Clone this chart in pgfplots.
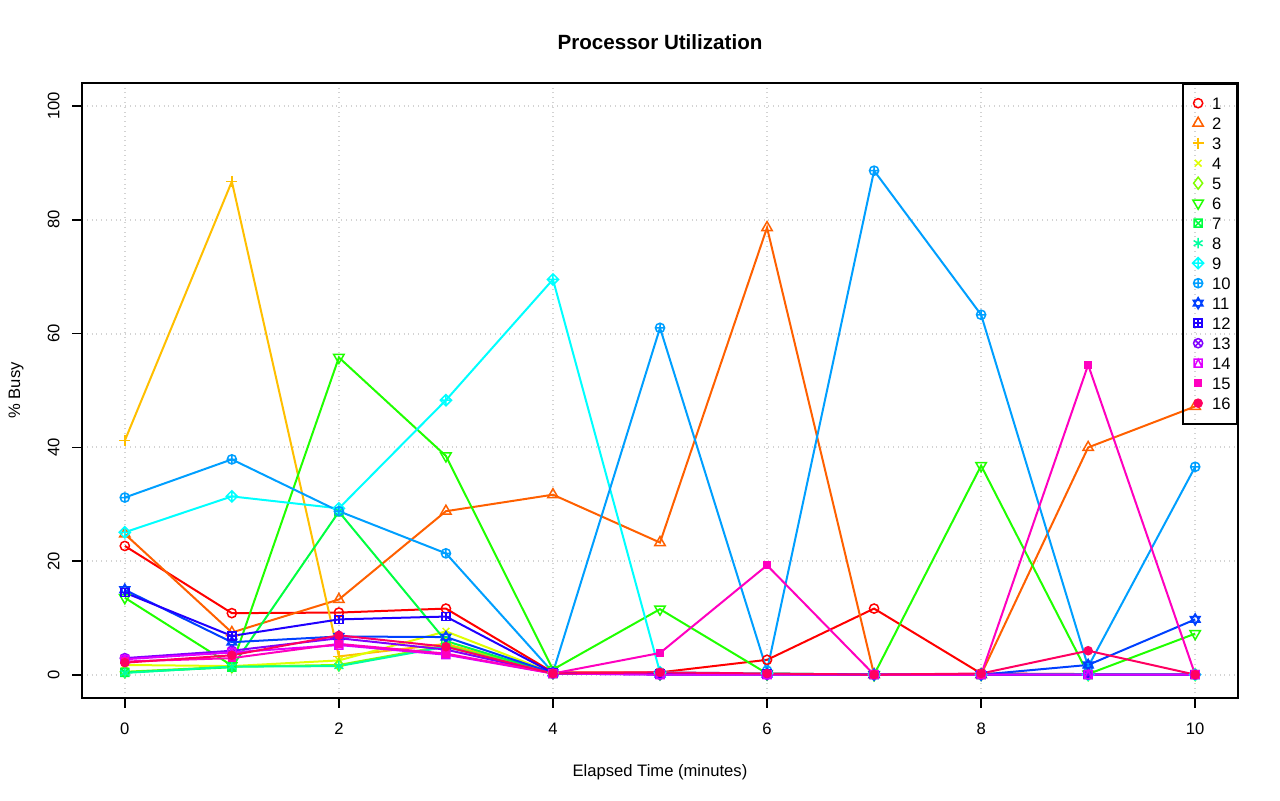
\documentclass[border=0pt]{standalone}
\usepackage{fontspec}
\setmainfont{Liberation Sans}
\usepackage{pgfplots}
\pgfplotsset{compat=1.18}
\definecolor{c1}{HTML}{FF0000}
\definecolor{c2}{HTML}{FF6000}
\definecolor{c3}{HTML}{FFBF00}
\definecolor{c4}{HTML}{DFFF00}
\definecolor{c5}{HTML}{80FF00}
\definecolor{c6}{HTML}{20FF00}
\definecolor{c7}{HTML}{00FF40}
\definecolor{c8}{HTML}{00FF9F}
\definecolor{c9}{HTML}{00FFFF}
\definecolor{c10}{HTML}{009FFF}
\definecolor{c11}{HTML}{0040FF}
\definecolor{c12}{HTML}{2000FF}
\definecolor{c13}{HTML}{8000FF}
\definecolor{c14}{HTML}{DF00FF}
\definecolor{c15}{HTML}{FF00BF}
\definecolor{c16}{HTML}{FF0060}
\definecolor{gridgray}{HTML}{D3D3D3}
\newcommand\fs{\fontsize{8.3}{10}\selectfont}
\pgfdeclareplotmark{boxtimes}{%
  \pgfpathrectangle{\pgfqpoint{-\pgfplotmarksize}{-\pgfplotmarksize}}{\pgfqpoint{2\pgfplotmarksize}{2\pgfplotmarksize}}%
  \pgfpathmoveto{\pgfqpoint{-\pgfplotmarksize}{-\pgfplotmarksize}}\pgfpathlineto{\pgfqpoint{\pgfplotmarksize}{\pgfplotmarksize}}%
  \pgfpathmoveto{\pgfqpoint{-\pgfplotmarksize}{\pgfplotmarksize}}\pgfpathlineto{\pgfqpoint{\pgfplotmarksize}{-\pgfplotmarksize}}%
  \pgfusepathqstroke}
\pgfdeclareplotmark{boxplus}{%
  \pgfpathrectangle{\pgfqpoint{-\pgfplotmarksize}{-\pgfplotmarksize}}{\pgfqpoint{2\pgfplotmarksize}{2\pgfplotmarksize}}%
  \pgfpathmoveto{\pgfqpoint{0pt}{-\pgfplotmarksize}}\pgfpathlineto{\pgfqpoint{0pt}{\pgfplotmarksize}}%
  \pgfpathmoveto{\pgfqpoint{-\pgfplotmarksize}{0pt}}\pgfpathlineto{\pgfqpoint{\pgfplotmarksize}{0pt}}%
  \pgfusepathqstroke}
\pgfdeclareplotmark{boxtri}{%
  \pgfpathrectangle{\pgfqpoint{-\pgfplotmarksize}{-\pgfplotmarksize}}{\pgfqpoint{2\pgfplotmarksize}{2\pgfplotmarksize}}%
  \pgfpathmoveto{\pgfqpoint{-\pgfplotmarksize}{-\pgfplotmarksize}}\pgfpathlineto{\pgfqpoint{0pt}{\pgfplotmarksize}}%
  \pgfpathlineto{\pgfqpoint{\pgfplotmarksize}{-\pgfplotmarksize}}%
  \pgfusepathqstroke}
\pgfdeclareplotmark{diamondplus}{%
  \pgfpathmoveto{\pgfqpoint{0pt}{\pgfplotmarksize}}%
  \pgfpathlineto{\pgfqpoint{\pgfplotmarksize}{0pt}}%
  \pgfpathlineto{\pgfqpoint{0pt}{-\pgfplotmarksize}}%
  \pgfpathlineto{\pgfqpoint{-\pgfplotmarksize}{0pt}}%
  \pgfpathclose
  \pgfpathmoveto{\pgfqpoint{0pt}{\pgfplotmarksize}}\pgfpathlineto{\pgfqpoint{0pt}{-\pgfplotmarksize}}%
  \pgfpathmoveto{\pgfqpoint{\pgfplotmarksize}{0pt}}\pgfpathlineto{\pgfqpoint{-\pgfplotmarksize}{0pt}}%
  \pgfusepathqstroke}
\pgfdeclareplotmark{davidstar}{%
  \pgfpathmoveto{\pgfpointpolar{90}{\pgfplotmarksize}}%
  \pgfpathlineto{\pgfpointpolar{210}{\pgfplotmarksize}}%
  \pgfpathlineto{\pgfpointpolar{330}{\pgfplotmarksize}}%
  \pgfpathclose
  \pgfpathmoveto{\pgfpointpolar{270}{\pgfplotmarksize}}%
  \pgfpathlineto{\pgfpointpolar{30}{\pgfplotmarksize}}%
  \pgfpathlineto{\pgfpointpolar{150}{\pgfplotmarksize}}%
  \pgfpathclose
  \pgfusepathqstroke}
\begin{document}
\begin{tikzpicture}
\useasboundingbox (-41pt,-51.5pt) rectangle (599pt,349pt);
\begin{axis}[
  at={(0pt,0pt)}, anchor=south west,
  scale only axis, width=578pt, height=307.5pt,
  xmin=-0.4, xmax=10.4, ymin=-4, ymax=104,
  xtick={0,2,4,6,8,10}, ytick={0,20,40,60,80,100},
  tick pos=left, tick align=outside, major tick length=5pt,
  axis line style={line width=0.85pt},
  every tick/.style={black, line width=0.85pt},
  grid=major, grid style={dotted, line width=1pt, gridgray},
  /pgf/number format/assume math mode=true,
  tick label style={font=\fs},
  xticklabel style={inner sep=0pt, anchor=north, yshift=-7.5pt},
  yticklabel style={rotate=90, anchor=south, inner sep=0pt},
  yticklabel shift=6pt,
  every axis x label/.style={at={(axis description cs:0.5,0)}, anchor=base, yshift=-39.5pt, font=\fs},
  every axis y label/.style={at={(axis description cs:0,0.5)}, xshift=-33pt, rotate=90, anchor=center, font=\fs},
  xlabel={Elapsed Time (minutes)},
  ylabel={\% Busy},
  title={Processor Utilization},
  title style={at={(axis description cs:0.5,1)}, anchor=center, yshift=14.5pt, font=\bfseries\fontsize{10.3}{12}\selectfont},
  legend style={at={(1,1)}, anchor=north east, draw=black, fill=none, line width=0.8pt,
    font=\fs, inner xsep=3.3pt, inner ysep=5pt, column sep=0pt, row sep=0pt,
    nodes={inner sep=0pt, text height=8pt, text depth=2pt},
    /tikz/every odd column/.append style={column sep=2.8pt}},
  legend cell align=left,
  legend image code/.code={\path[draw=none,fill=none] (0pt,0.3pt) -- (8.4pt,0.3pt);\draw[mark repeat=2,mark phase=2,#1] plot coordinates {(0pt,0.3pt)(4.2pt,0.3pt)(8.4pt,0.3pt)};},
  every axis plot/.append style={line width=1pt, mark size=2.3pt},
  mk/.style={mark options={solid, line width=0.75pt, #1}},
  mk/.default={},
]
\addplot[c1, mark=o, mk, forget plot] coordinates {(0,22.7)(1,10.9)(2,11.0)(3,11.7)(4,0.5)(5,0.5)(6,2.7)(7,11.7)(8,0.3)(9,0.2)(10,0.1)};
\addplot[c2, mark=triangle, mark size=3pt, mk, forget plot] coordinates {(0,24.8)(1,7.5)(2,13.3)(3,28.8)(4,31.7)(5,23.3)(6,78.6)(7,0.1)(8,0.1)(9,40.0)(10,47.2)};
\addplot[c3, mark=+, mark size=2.8pt, mk, forget plot] coordinates {(0,41.2)(1,86.7)(2,3.3)(3,5.5)(4,0.4)(5,0.2)(6,0.2)(7,0.1)(8,0.1)(9,0.1)(10,0.1)};
\addplot[c4, mark=x, mark size=2.4pt, mk, forget plot] coordinates {(0,1.8)(1,1.6)(2,2.6)(3,7.7)(4,0.4)(5,0.3)(6,0.2)(7,0.1)(8,0.1)(9,0.1)(10,0.1)};
\addplot[c5, mark=diamond, mark size=3pt, mk, forget plot] coordinates {(0,0.6)(1,1.5)(2,1.8)(3,5.2)(4,0.4)(5,0.2)(6,0.2)(7,0.1)(8,0.1)(9,0.1)(10,0.1)};
\addplot[c6, mark=triangle, mark size=3pt, mk={rotate=180}, forget plot] coordinates {(0,13.6)(1,1.7)(2,55.8)(3,38.5)(4,1.0)(5,11.6)(6,0.3)(7,0.1)(8,36.8)(9,0.2)(10,7.3)};
\addplot[c7, mark=boxtimes, mark size=2pt, mk, forget plot] coordinates {(0,0.5)(1,1.4)(2,28.7)(3,6.0)(4,0.3)(5,0.2)(6,0.2)(7,0.1)(8,0.1)(9,0.1)(10,0.1)};
\addplot[c8, mark=asterisk, mark size=2.6pt, mk, forget plot] coordinates {(0,0.4)(1,1.5)(2,1.6)(3,5.0)(4,0.3)(5,0.2)(6,0.2)(7,0.1)(8,0.1)(9,0.1)(10,0.1)};
\addplot[c9, mark=diamondplus, mark size=2.8pt, mk, forget plot] coordinates {(0,25.1)(1,31.4)(2,29.3)(3,48.3)(4,69.5)(5,0.5)(6,0.3)(7,0.1)(8,0.1)(9,0.1)(10,0.1)};
\addplot[c10, mark=oplus, mark size=2.3pt, mk, forget plot] coordinates {(0,31.2)(1,37.9)(2,28.8)(3,21.4)(4,0.5)(5,61.0)(6,0.8)(7,88.6)(8,63.3)(9,1.5)(10,36.6)};
\addplot[c11, mark=davidstar, mark size=2.8pt, mk, forget plot] coordinates {(0,15.0)(1,5.8)(2,6.8)(3,6.7)(4,0.4)(5,0.2)(6,0.2)(7,0.1)(8,0.1)(9,1.8)(10,9.8)};
\addplot[c12, mark=boxplus, mark size=2pt, mk, forget plot] coordinates {(0,14.5)(1,6.9)(2,9.8)(3,10.3)(4,0.4)(5,0.2)(6,0.2)(7,0.1)(8,0.1)(9,0.1)(10,0.1)};
\addplot[c13, mark=otimes, mark size=2.3pt, mk, forget plot] coordinates {(0,3.0)(1,4.3)(2,6.5)(3,4.5)(4,0.3)(5,0.1)(6,0.1)(7,0.1)(8,0.1)(9,0.1)(10,0.1)};
\addplot[c14, mark=boxtri, mark size=2pt, mk, forget plot] coordinates {(0,2.8)(1,4.0)(2,5.3)(3,3.6)(4,0.3)(5,0.1)(6,0.1)(7,0.1)(8,0.1)(9,0.1)(10,0.1)};
\addplot[c15, mark=square*, mark size=1.7pt, mk, forget plot] coordinates {(0,2.4)(1,3.0)(2,5.5)(3,3.8)(4,0.3)(5,3.9)(6,19.3)(7,0.1)(8,0.1)(9,54.5)(10,0.1)};
\addplot[c16, mark=*, mark size=2pt, mk, forget plot] coordinates {(0,2.2)(1,3.5)(2,7.0)(3,5.0)(4,0.3)(5,0.5)(6,0.3)(7,0.1)(8,0.3)(9,4.3)(10,0.1)};
\addlegendimage{only marks, c1, mark=o, mk}\addlegendentry{1}
\addlegendimage{only marks, c2, mark=triangle, mark size=3pt, mk}\addlegendentry{2}
\addlegendimage{only marks, c3, mark=+, mark size=2.8pt, mk}\addlegendentry{3}
\addlegendimage{only marks, c4, mark=x, mark size=2.4pt, mk}\addlegendentry{4}
\addlegendimage{only marks, c5, mark=diamond, mark size=3pt, mk}\addlegendentry{5}
\addlegendimage{only marks, c6, mark=triangle, mark size=3pt, mk={rotate=180}}\addlegendentry{6}
\addlegendimage{only marks, c7, mark=boxtimes, mark size=2pt, mk}\addlegendentry{7}
\addlegendimage{only marks, c8, mark=asterisk, mark size=2.6pt, mk}\addlegendentry{8}
\addlegendimage{only marks, c9, mark=diamondplus, mark size=2.8pt, mk}\addlegendentry{9}
\addlegendimage{only marks, c10, mark=oplus, mark size=2.3pt, mk}\addlegendentry{10}
\addlegendimage{only marks, c11, mark=davidstar, mark size=2.8pt, mk}\addlegendentry{11}
\addlegendimage{only marks, c12, mark=boxplus, mark size=2pt, mk}\addlegendentry{12}
\addlegendimage{only marks, c13, mark=otimes, mark size=2.3pt, mk}\addlegendentry{13}
\addlegendimage{only marks, c14, mark=boxtri, mark size=2pt, mk}\addlegendentry{14}
\addlegendimage{only marks, c15, mark=square*, mark size=1.7pt, mk}\addlegendentry{15}
\addlegendimage{only marks, c16, mark=*, mark size=2pt, mk}\addlegendentry{16}
\end{axis}
\end{tikzpicture}
\end{document}
